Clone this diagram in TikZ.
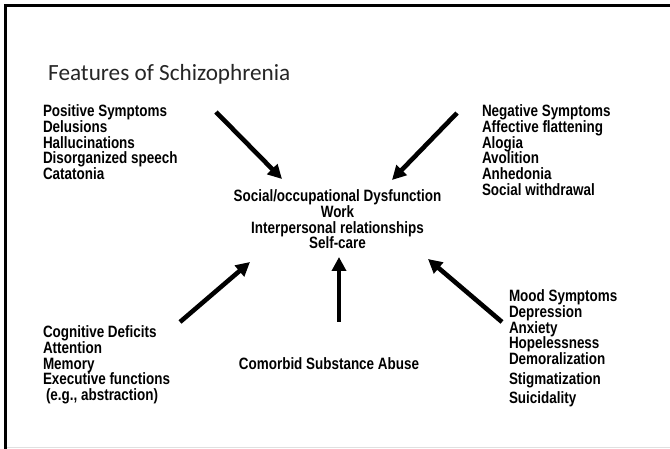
\documentclass[tikz,border=0pt]{standalone}
\usepackage{fontspec}
\usetikzlibrary{arrows.meta}
\newfontfamily\narrowfont[FakeStretch=0.82]{Liberation Sans}
\newfontfamily\titlefont{Carlito}
\tikzset{
  x=1pt, y=1pt,
  lbl/.style={inner sep=0pt, outer sep=0pt, align=left,
    font={\narrowfont\bfseries\fontsize{16.4}{15.7}\selectfont}},
  clbl/.style={lbl, align=center},
  bigarrow/.style={line width=4.6pt, -{Triangle[length=14pt,width=14pt]}},
}
\begin{document}
\begin{tikzpicture}
\useasboundingbox (0,0) rectangle (670,-449);
\fill[white] (0,0) rectangle (670,-449);
% frame
\draw[line width=3pt] (670,-6) -- (5.5,-6) -- (5.5,-449);
\draw[black!12, line width=1pt] (7,-447.5) -- (670,-447.5);
% title
\node[inner sep=0pt, anchor=base west, text=black!85, font={\titlefont\fontsize{23.2}{26}\selectfont}] (title) at (48,-81) {Features of Schizophrenia};
% text blocks
\node[lbl, anchor=north west] (pos) at (43,-105) {Positive Symptoms\\Delusions\\Hallucinations\\Disorganized speech\\Catatonia};
\node[lbl, anchor=north west] (neg) at (482,-105) {Negative Symptoms\\Affective flattening\\Alogia\\Avolition\\Anhedonia\\Social withdrawal};
\node[clbl, anchor=north] (center) at (337.5,-190) {Social/occupational Dysfunction\\Work\\Interpersonal relationships\\Self-care};
\node[lbl, anchor=north west] (cog) at (43,-326) {Cognitive Deficits\\Attention\\Memory\\Executive functions\\\hspace*{3pt}(e.g., abstraction)};
\node[lbl, anchor=north] (sub) at (329,-358) {Comorbid Substance Abuse};
\node[lbl, anchor=north west] (mood) at (509,-290) {Mood Symptoms\\Depression\\Anxiety\\Hopelessness\\Demoralization\\[4pt]Stigmatization\\[3pt]Suicidality};
% arrow endpoints
\coordinate (a1s) at (216,-112); \coordinate (a1e) at (282,-179);
\coordinate (a2s) at (457,-113); \coordinate (a2e) at (392,-180);
\coordinate (a3s) at (180,-322); \coordinate (a3e) at (250,-262);
\coordinate (a4s) at (339,-322); \coordinate (a4e) at (339,-257);
\coordinate (a5s) at (502,-322); \coordinate (a5e) at (428,-259);
\draw[bigarrow] (a1s) -- (a1e);
\draw[bigarrow] (a2s) -- (a2e);
\draw[bigarrow] (a3s) -- (a3e);
\draw[bigarrow] (a4s) -- (a4e);
\draw[bigarrow] (a5s) -- (a5e);
\end{tikzpicture}
\end{document}
